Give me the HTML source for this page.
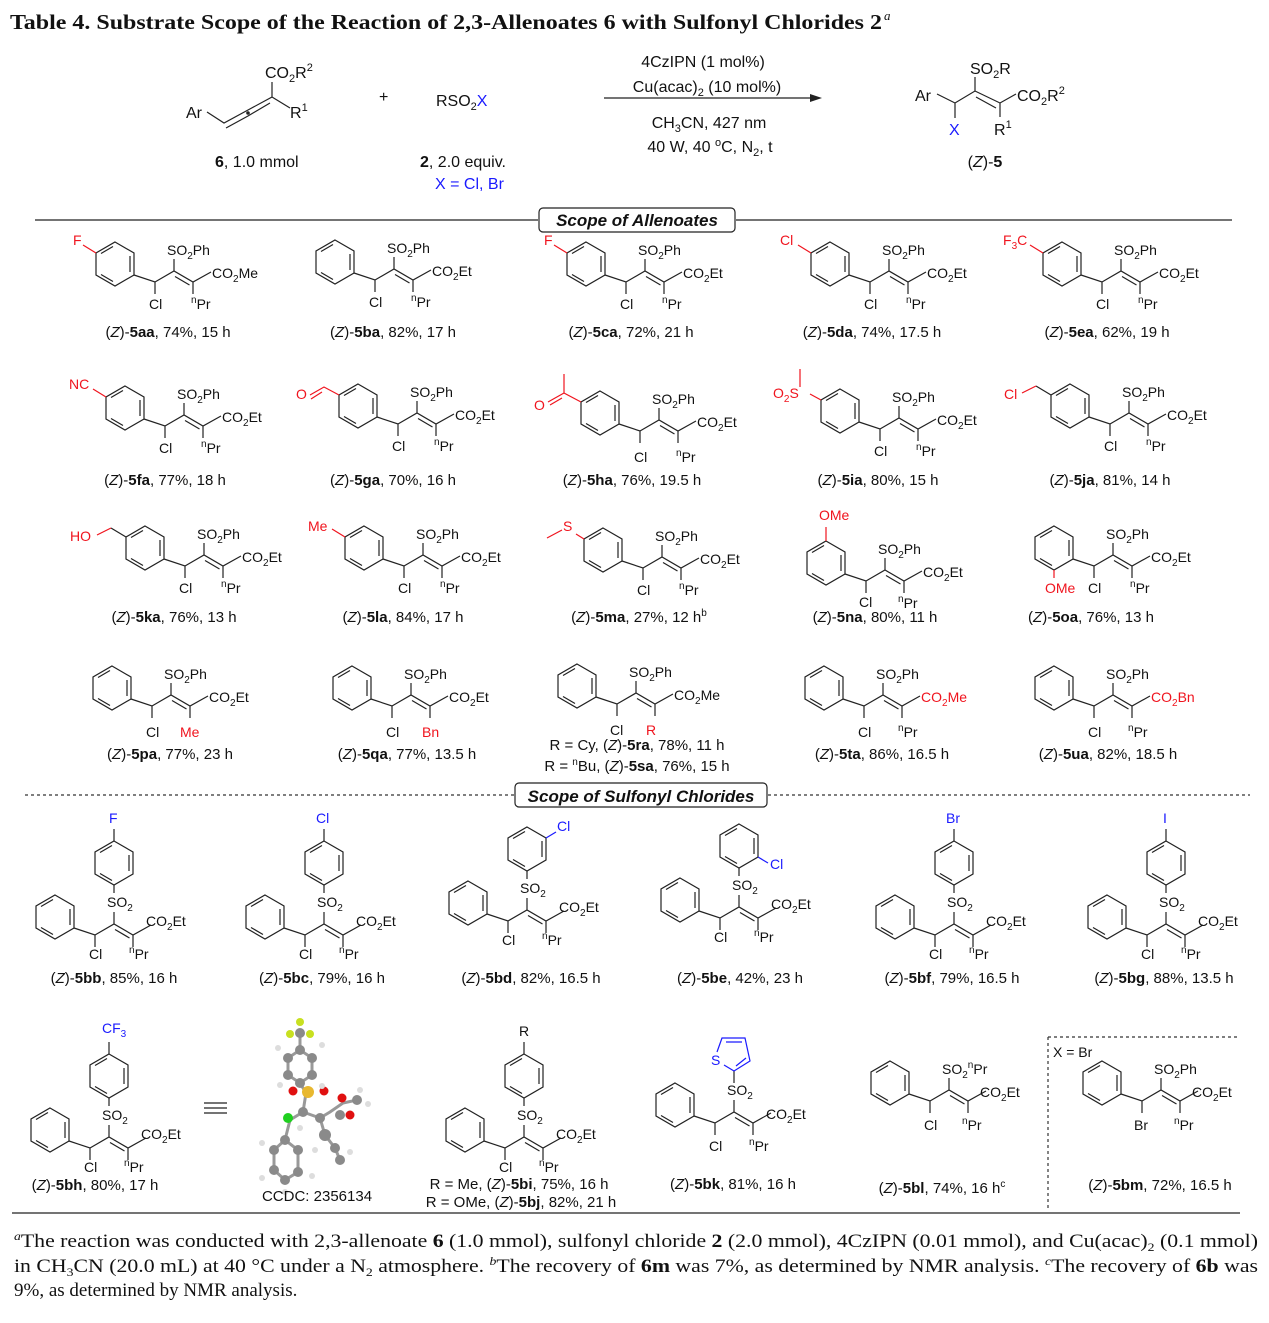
<!DOCTYPE html>
<html><head><meta charset="utf-8"><style>
html,body{margin:0;padding:0;background:#fff}
svg{display:block}
.t{font-family:"Liberation Sans",sans-serif;font-size:14px;fill:#111}
.c{font-family:"Liberation Sans",sans-serif;font-size:15px;fill:#111;text-anchor:middle}
.r{fill:#f0141e}.b{fill:#1a1aff}
.sv{font-family:"Liberation Serif",serif;fill:#111}
.ln{stroke:#222;stroke-width:1.2;fill:none}
.rl{stroke:#f0141e;stroke-width:1.2;fill:none}
.bl{stroke:#1a1aff;stroke-width:1.2;fill:none}
</style></head><body>
<svg width="1269" height="1323" viewBox="0 0 1269 1323" xmlns="http://www.w3.org/2000/svg">
<defs>
<g id="hx" class="ln"><polygon points="0,-22 19,-11 19,11 0,22 -19,11 -19,-11"/><path d="M15,-8 L15,8 M-2,17.5 L-14,10.5 M-14,-10.5 L-2,-17.5"/></g>
<g id="ch"><use href="#hx"/><path class="ln" d="M19,11 L40,18 L59,7 L78,18 L96,8 M40,18 L40,30 M59,7 L59,-5 M78,18 L78,30 M60,12.5 L74.5,21"/></g>
<g id="ch0"><use href="#hx"/><path class="ln" d="M19,11 L40,18 L59,7 L78,18 L96,8 M40,18 L40,30 M78,18 L78,30 M60,12.5 L74.5,21 M59,7 L59,-5"/></g>
<g id="ch2"><use href="#ch0"/><use href="#hx" x="59" y="-54"/><path class="ln" d="M59,-32 L59,-24"/></g>
<g id="top"><path class="ln" d="M59,-76 L59,-88"/></g>
<g id="pu"><path class="rl" d="M-19,-11 L-32,-19"/></g>
</defs>

<!-- Title -->
<text x="10" y="29" class="sv" font-size="21" font-weight="bold" textLength="872" lengthAdjust="spacingAndGlyphs">Table 4. Substrate Scope of the Reaction of 2,3-Allenoates 6 with Sulfonyl Chlorides 2</text>
<text x="884" y="20" class="sv" font-size="13" font-style="italic">a</text>

<!-- Scheme -->
<path class="ln" d="M207,112 L224,123 L248,110 L272,97 L272,82 M272,97 L290,108 M226,128 L248,116 L270,103"/>
<circle cx="248" cy="113" r="1.8" fill="#222"/>
<text x="186" y="118" class="t" style="font-size:16px">Ar</text>
<text x="265" y="78" class="t" style="font-size:16px">CO<tspan font-size="11" dy="4">2</tspan><tspan dy="-4">R</tspan><tspan font-size="11" dy="-7">2</tspan></text>
<text x="290" y="118" class="t" style="font-size:16px">R<tspan font-size="11" dy="-7">1</tspan></text>
<text x="215" y="167" class="t" style="font-size:16px"><tspan font-weight="bold">6</tspan>, 1.0 mmol</text>
<text x="379" y="102" class="t" style="font-size:16px">+</text>
<text x="436" y="106" class="t" style="font-size:16px">RSO<tspan font-size="11" dy="4">2</tspan><tspan dy="-4" class="b">X</tspan></text>
<text x="420" y="167" class="t" style="font-size:16px"><tspan font-weight="bold">2</tspan>,  2.0 equiv.</text>
<text x="435" y="189" class="t b" style="font-size:16px">X = Cl, Br</text>
<path class="ln" d="M604,98 L812,98"/><polygon points="822,98 810,94 810,102" fill="#222"/>
<text x="703" y="67" class="c" style="font-size:16px">4CzIPN (1 mol%)</text>
<text x="707" y="92" class="c" style="font-size:16px">Cu(acac)<tspan font-size="11" dy="4">2</tspan><tspan dy="-4"> (10 mol%)</tspan></text>
<text x="709" y="128" class="c" style="font-size:16px">CH<tspan font-size="11" dy="4">3</tspan><tspan dy="-4">CN, 427 nm</tspan></text>
<text x="710" y="152" class="c" style="font-size:16px">40 W, 40 <tspan font-size="11" dy="-6">o</tspan><tspan dy="6">C, N</tspan><tspan font-size="11" dy="4">2</tspan><tspan dy="-4">, t</tspan></text>
<path class="ln" d="M937,94 L955,103 L975,91 L1000,103 L1016,94 M955,103 L955,118 M975,91 L975,77 M1000,103 L1000,117 M976,97 L996,108"/>
<text x="915" y="101" class="t" style="font-size:16px">Ar</text>
<text x="970" y="74" class="t" style="font-size:16px">SO<tspan font-size="11" dy="4">2</tspan><tspan dy="-4">R</tspan></text>
<text x="1017" y="101" class="t" style="font-size:16px">CO<tspan font-size="11" dy="4">2</tspan><tspan dy="-4">R</tspan><tspan font-size="11" dy="-7">2</tspan></text>
<text x="949" y="135" class="t b" style="font-size:16px">X</text>
<text x="994" y="135" class="t" style="font-size:16px">R<tspan font-size="11" dy="-7">1</tspan></text>
<text x="985" y="167" class="c" style="font-size:16px">(<tspan font-style="italic">Z</tspan>)-<tspan font-weight="bold">5</tspan></text>

<!-- Section 1 header -->
<path class="ln" d="M35,220 L538,220 M736,220 L1232,220"/>
<rect x="539" y="208" width="196" height="24" rx="4" fill="#fff" stroke="#222" stroke-width="1.2"/>
<text x="637" y="226" class="c" style="font-size:17px" font-weight="bold" font-style="italic">Scope of Allenoates</text>

<!-- Row 1 -->
<g transform="translate(115,264)"><use href="#ch"/><use href="#pu"/>
<text x="-42" y="-19" class="t r">F</text>
<text x="52" y="-9" class="t">SO<tspan font-size="10" dy="4">2</tspan><tspan dy="-4">Ph</tspan></text>
<text x="97" y="14" class="t">CO<tspan font-size="10" dy="4">2</tspan><tspan dy="-4">Me</tspan></text>
<text x="34" y="45" class="t">Cl</text><text x="76" y="45" class="t"><tspan font-size="10" dy="-6">n</tspan><tspan dy="6">Pr</tspan></text>
<text x="53" y="73" class="c">(<tspan font-style="italic">Z</tspan>)-<tspan font-weight="bold">5aa</tspan>, 74%, 15 h</text></g>

<g transform="translate(335,262)"><use href="#ch"/>
<text x="52" y="-9" class="t">SO<tspan font-size="10" dy="4">2</tspan><tspan dy="-4">Ph</tspan></text>
<text x="97" y="14" class="t">CO<tspan font-size="10" dy="4">2</tspan><tspan dy="-4">Et</tspan></text>
<text x="34" y="45" class="t">Cl</text><text x="76" y="45" class="t"><tspan font-size="10" dy="-6">n</tspan><tspan dy="6">Pr</tspan></text>
<text x="58" y="75" class="c">(<tspan font-style="italic">Z</tspan>)-<tspan font-weight="bold">5ba</tspan>, 82%, 17 h</text></g>

<g transform="translate(586,264)"><use href="#ch"/><use href="#pu"/>
<text x="-42" y="-19" class="t r">F</text>
<text x="52" y="-9" class="t">SO<tspan font-size="10" dy="4">2</tspan><tspan dy="-4">Ph</tspan></text>
<text x="97" y="14" class="t">CO<tspan font-size="10" dy="4">2</tspan><tspan dy="-4">Et</tspan></text>
<text x="34" y="45" class="t">Cl</text><text x="76" y="45" class="t"><tspan font-size="10" dy="-6">n</tspan><tspan dy="6">Pr</tspan></text>
<text x="45" y="73" class="c">(<tspan font-style="italic">Z</tspan>)-<tspan font-weight="bold">5ca</tspan>, 72%, 21 h</text></g>

<g transform="translate(830,264)"><use href="#ch"/><use href="#pu"/>
<text x="-50" y="-19" class="t r">Cl</text>
<text x="52" y="-9" class="t">SO<tspan font-size="10" dy="4">2</tspan><tspan dy="-4">Ph</tspan></text>
<text x="97" y="14" class="t">CO<tspan font-size="10" dy="4">2</tspan><tspan dy="-4">Et</tspan></text>
<text x="34" y="45" class="t">Cl</text><text x="76" y="45" class="t"><tspan font-size="10" dy="-6">n</tspan><tspan dy="6">Pr</tspan></text>
<text x="42" y="73" class="c">(<tspan font-style="italic">Z</tspan>)-<tspan font-weight="bold">5da</tspan>, 74%, 17.5 h</text></g>

<g transform="translate(1062,264)"><use href="#ch"/><use href="#pu"/>
<text x="-59" y="-19" class="t r">F<tspan font-size="10" dy="4">3</tspan><tspan dy="-4">C</tspan></text>
<text x="52" y="-9" class="t">SO<tspan font-size="10" dy="4">2</tspan><tspan dy="-4">Ph</tspan></text>
<text x="97" y="14" class="t">CO<tspan font-size="10" dy="4">2</tspan><tspan dy="-4">Et</tspan></text>
<text x="34" y="45" class="t">Cl</text><text x="76" y="45" class="t"><tspan font-size="10" dy="-6">n</tspan><tspan dy="6">Pr</tspan></text>
<text x="45" y="73" class="c">(<tspan font-style="italic">Z</tspan>)-<tspan font-weight="bold">5ea</tspan>, 62%, 19 h</text></g>

<!-- Row 2 -->
<g transform="translate(125,408)"><use href="#ch"/><use href="#pu"/>
<text x="-56" y="-19" class="t r">NC</text>
<text x="52" y="-9" class="t">SO<tspan font-size="10" dy="4">2</tspan><tspan dy="-4">Ph</tspan></text>
<text x="97" y="14" class="t">CO<tspan font-size="10" dy="4">2</tspan><tspan dy="-4">Et</tspan></text>
<text x="34" y="45" class="t">Cl</text><text x="76" y="45" class="t"><tspan font-size="10" dy="-6">n</tspan><tspan dy="6">Pr</tspan></text>
<text x="40" y="77" class="c">(<tspan font-style="italic">Z</tspan>)-<tspan font-weight="bold">5fa</tspan>, 77%, 18 h</text></g>

<g transform="translate(358,406)"><use href="#ch"/><path class="rl" d="M-19,-11 L-34,-19 L-48,-11 M-36,-14 L-47,-7"/>
<text x="-62" y="-7" class="t r">O</text>
<text x="52" y="-9" class="t">SO<tspan font-size="10" dy="4">2</tspan><tspan dy="-4">Ph</tspan></text>
<text x="97" y="14" class="t">CO<tspan font-size="10" dy="4">2</tspan><tspan dy="-4">Et</tspan></text>
<text x="34" y="45" class="t">Cl</text><text x="76" y="45" class="t"><tspan font-size="10" dy="-6">n</tspan><tspan dy="6">Pr</tspan></text>
<text x="35" y="79" class="c">(<tspan font-style="italic">Z</tspan>)-<tspan font-weight="bold">5ga</tspan>, 70%, 16 h</text></g>

<g transform="translate(600,413)"><use href="#ch"/><path class="rl" d="M-19,-11 L-36,-20 L-36,-39 M-36,-20 L-52,-11 M-38,-15 L-50,-8"/>
<text x="-66" y="-3" class="t r">O</text>
<text x="52" y="-9" class="t">SO<tspan font-size="10" dy="4">2</tspan><tspan dy="-4">Ph</tspan></text>
<text x="97" y="14" class="t">CO<tspan font-size="10" dy="4">2</tspan><tspan dy="-4">Et</tspan></text>
<text x="34" y="49" class="t">Cl</text><text x="76" y="49" class="t"><tspan font-size="10" dy="-6">n</tspan><tspan dy="6">Pr</tspan></text>
<text x="32" y="72" class="c">(<tspan font-style="italic">Z</tspan>)-<tspan font-weight="bold">5ha</tspan>, 76%, 19.5 h</text></g>

<g transform="translate(840,411)"><use href="#ch"/><path class="rl" d="M-19,-11 L-30,-17 M-40,-24 L-40,-42"/>
<text x="-67" y="-13" class="t r">O<tspan font-size="10" dy="4">2</tspan><tspan dy="-4">S</tspan></text>
<text x="52" y="-9" class="t">SO<tspan font-size="10" dy="4">2</tspan><tspan dy="-4">Ph</tspan></text>
<text x="97" y="14" class="t">CO<tspan font-size="10" dy="4">2</tspan><tspan dy="-4">Et</tspan></text>
<text x="34" y="45" class="t">Cl</text><text x="76" y="45" class="t"><tspan font-size="10" dy="-6">n</tspan><tspan dy="6">Pr</tspan></text>
<text x="38" y="74" class="c">(<tspan font-style="italic">Z</tspan>)-<tspan font-weight="bold">5ia</tspan>, 80%, 15 h</text></g>

<g transform="translate(1070,406)"><use href="#ch"/><path class="ln" d="M-19,-11 L-34,-20"/><path class="rl" d="M-34,-20 L-48,-13"/>
<text x="-66" y="-7" class="t r">Cl</text>
<text x="52" y="-9" class="t">SO<tspan font-size="10" dy="4">2</tspan><tspan dy="-4">Ph</tspan></text>
<text x="97" y="14" class="t">CO<tspan font-size="10" dy="4">2</tspan><tspan dy="-4">Et</tspan></text>
<text x="34" y="45" class="t">Cl</text><text x="76" y="45" class="t"><tspan font-size="10" dy="-6">n</tspan><tspan dy="6">Pr</tspan></text>
<text x="40" y="79" class="c">(<tspan font-style="italic">Z</tspan>)-<tspan font-weight="bold">5ja</tspan>, 81%, 14 h</text></g>

<!-- Row 3 -->
<g transform="translate(145,548)"><use href="#ch"/><path class="ln" d="M-19,-11 L-34,-20"/><path class="rl" d="M-34,-20 L-48,-13"/>
<text x="-75" y="-7" class="t r">HO</text>
<text x="52" y="-9" class="t">SO<tspan font-size="10" dy="4">2</tspan><tspan dy="-4">Ph</tspan></text>
<text x="97" y="14" class="t">CO<tspan font-size="10" dy="4">2</tspan><tspan dy="-4">Et</tspan></text>
<text x="34" y="45" class="t">Cl</text><text x="76" y="45" class="t"><tspan font-size="10" dy="-6">n</tspan><tspan dy="6">Pr</tspan></text>
<text x="29" y="74" class="c">(<tspan font-style="italic">Z</tspan>)-<tspan font-weight="bold">5ka</tspan>, 76%, 13 h</text></g>

<g transform="translate(364,548)"><use href="#ch"/><use href="#pu"/>
<text x="-56" y="-17" class="t r">Me</text>
<text x="52" y="-9" class="t">SO<tspan font-size="10" dy="4">2</tspan><tspan dy="-4">Ph</tspan></text>
<text x="97" y="14" class="t">CO<tspan font-size="10" dy="4">2</tspan><tspan dy="-4">Et</tspan></text>
<text x="34" y="45" class="t">Cl</text><text x="76" y="45" class="t"><tspan font-size="10" dy="-6">n</tspan><tspan dy="6">Pr</tspan></text>
<text x="39" y="74" class="c">(<tspan font-style="italic">Z</tspan>)-<tspan font-weight="bold">5la</tspan>, 84%, 17 h</text></g>

<g transform="translate(603,550)"><use href="#ch"/><path class="rl" d="M-19,-11 L-27,-16 M-41,-20 L-56,-12"/>
<text x="-40" y="-19" class="t r">S</text>
<text x="52" y="-9" class="t">SO<tspan font-size="10" dy="4">2</tspan><tspan dy="-4">Ph</tspan></text>
<text x="97" y="14" class="t">CO<tspan font-size="10" dy="4">2</tspan><tspan dy="-4">Et</tspan></text>
<text x="34" y="45" class="t">Cl</text><text x="76" y="45" class="t"><tspan font-size="10" dy="-6">n</tspan><tspan dy="6">Pr</tspan></text>
<text x="36" y="72" class="c">(<tspan font-style="italic">Z</tspan>)-<tspan font-weight="bold">5ma</tspan>, 27%, 12 h<tspan font-size="10" dy="-6">b</tspan></text></g>

<g transform="translate(826,563)"><use href="#ch"/><path class="rl" d="M0,-22 L0,-36"/>
<text x="-7" y="-43" class="t r">OMe</text>
<text x="52" y="-9" class="t">SO<tspan font-size="10" dy="4">2</tspan><tspan dy="-4">Ph</tspan></text>
<text x="97" y="14" class="t">CO<tspan font-size="10" dy="4">2</tspan><tspan dy="-4">Et</tspan></text>
<text x="33" y="44" class="t">Cl</text><text x="72" y="45" class="t"><tspan font-size="10" dy="-6">n</tspan><tspan dy="6">Pr</tspan></text>
<text x="49" y="59" class="c">(<tspan font-style="italic">Z</tspan>)-<tspan font-weight="bold">5na</tspan>, 80%, 11 h</text></g>

<g transform="translate(1054,548)"><use href="#ch"/><path class="rl" d="M0,22 L0,30"/>
<text x="-9" y="45" class="t r">OMe</text>
<text x="52" y="-9" class="t">SO<tspan font-size="10" dy="4">2</tspan><tspan dy="-4">Ph</tspan></text>
<text x="97" y="14" class="t">CO<tspan font-size="10" dy="4">2</tspan><tspan dy="-4">Et</tspan></text>
<text x="34" y="45" class="t">Cl</text><text x="76" y="45" class="t"><tspan font-size="10" dy="-6">n</tspan><tspan dy="6">Pr</tspan></text>
<text x="37" y="74" class="c">(<tspan font-style="italic">Z</tspan>)-<tspan font-weight="bold">5oa</tspan>, 76%, 13 h</text></g>

<!-- Row 4 -->
<g transform="translate(112,688)"><use href="#ch"/>
<text x="52" y="-9" class="t">SO<tspan font-size="10" dy="4">2</tspan><tspan dy="-4">Ph</tspan></text>
<text x="97" y="14" class="t">CO<tspan font-size="10" dy="4">2</tspan><tspan dy="-4">Et</tspan></text>
<text x="34" y="49" class="t">Cl</text><text x="68" y="49" class="t r">Me</text>
<text x="58" y="71" class="c">(<tspan font-style="italic">Z</tspan>)-<tspan font-weight="bold">5pa</tspan>, 77%, 23 h</text></g>

<g transform="translate(352,688)"><use href="#ch"/>
<text x="52" y="-9" class="t">SO<tspan font-size="10" dy="4">2</tspan><tspan dy="-4">Ph</tspan></text>
<text x="97" y="14" class="t">CO<tspan font-size="10" dy="4">2</tspan><tspan dy="-4">Et</tspan></text>
<text x="34" y="49" class="t">Cl</text><text x="70" y="49" class="t r">Bn</text>
<text x="55" y="71" class="c">(<tspan font-style="italic">Z</tspan>)-<tspan font-weight="bold">5qa</tspan>, 77%, 13.5 h</text></g>

<g transform="translate(577,686)"><use href="#ch"/>
<text x="52" y="-9" class="t">SO<tspan font-size="10" dy="4">2</tspan><tspan dy="-4">Ph</tspan></text>
<text x="97" y="14" class="t">CO<tspan font-size="10" dy="4">2</tspan><tspan dy="-4">Me</tspan></text>
<text x="33" y="49" class="t">Cl</text><text x="69" y="49" class="t r">R</text>
<text x="60" y="64" class="c">R = Cy, (<tspan font-style="italic">Z</tspan>)-<tspan font-weight="bold">5ra</tspan>, 78%, 11 h</text>
<text x="60" y="85" class="c">R = <tspan font-size="10" dy="-6">n</tspan><tspan dy="6">Bu, (</tspan><tspan font-style="italic">Z</tspan>)-<tspan font-weight="bold">5sa</tspan>, 76%, 15 h</text></g>

<g transform="translate(824,688)"><use href="#ch"/>
<text x="52" y="-9" class="t">SO<tspan font-size="10" dy="4">2</tspan><tspan dy="-4">Ph</tspan></text>
<text x="97" y="14" class="t r">CO<tspan font-size="10" dy="4">2</tspan><tspan dy="-4">Me</tspan></text>
<text x="34" y="49" class="t">Cl</text><text x="74" y="49" class="t"><tspan font-size="10" dy="-6">n</tspan><tspan dy="6">Pr</tspan></text>
<text x="58" y="71" class="c">(<tspan font-style="italic">Z</tspan>)-<tspan font-weight="bold">5ta</tspan>, 86%, 16.5 h</text></g>

<g transform="translate(1054,688)"><use href="#ch"/>
<text x="52" y="-9" class="t">SO<tspan font-size="10" dy="4">2</tspan><tspan dy="-4">Ph</tspan></text>
<text x="97" y="14" class="t r">CO<tspan font-size="10" dy="4">2</tspan><tspan dy="-4">Bn</tspan></text>
<text x="34" y="49" class="t">Cl</text><text x="74" y="49" class="t"><tspan font-size="10" dy="-6">n</tspan><tspan dy="6">Pr</tspan></text>
<text x="54" y="71" class="c">(<tspan font-style="italic">Z</tspan>)-<tspan font-weight="bold">5ua</tspan>, 82%, 18.5 h</text></g>

<!-- Section 2 header -->
<path d="M25,795 L515,795 M768,795 L1250,795" stroke="#333" stroke-width="1.2" stroke-dasharray="3,3" fill="none"/>
<rect x="515" y="783" width="252" height="24" rx="4" fill="#fff" stroke="#222" stroke-width="1.2"/>
<text x="641" y="802" class="c" style="font-size:17px" font-weight="bold" font-style="italic">Scope of Sulfonyl Chlorides</text>

<!-- Row 5 -->
<g transform="translate(55,917)"><use href="#ch2"/><use href="#top"/>
<text x="54" y="-94" class="t b">F</text>
<text x="52" y="-10" class="t">SO<tspan font-size="10" dy="4">2</tspan></text>
<text x="91" y="9" class="t">CO<tspan font-size="10" dy="4">2</tspan><tspan dy="-4">Et</tspan></text>
<text x="34" y="42" class="t">Cl</text><text x="74" y="42" class="t"><tspan font-size="10" dy="-6">n</tspan><tspan dy="6">Pr</tspan></text>
<text x="59" y="66" class="c">(<tspan font-style="italic">Z</tspan>)-<tspan font-weight="bold">5bb</tspan>,  85%, 16 h</text></g>

<g transform="translate(265,917)"><use href="#ch2"/><use href="#top"/>
<text x="51" y="-94" class="t b">Cl</text>
<text x="52" y="-10" class="t">SO<tspan font-size="10" dy="4">2</tspan></text>
<text x="91" y="9" class="t">CO<tspan font-size="10" dy="4">2</tspan><tspan dy="-4">Et</tspan></text>
<text x="34" y="42" class="t">Cl</text><text x="74" y="42" class="t"><tspan font-size="10" dy="-6">n</tspan><tspan dy="6">Pr</tspan></text>
<text x="57" y="66" class="c">(<tspan font-style="italic">Z</tspan>)-<tspan font-weight="bold">5bc</tspan>,  79%, 16 h</text></g>

<g transform="translate(468,903)"><use href="#ch2"/><path class="bl" d="M78,-65 L88,-71"/>
<text x="89" y="-72" class="t b">Cl</text>
<text x="52" y="-10" class="t">SO<tspan font-size="10" dy="4">2</tspan></text>
<text x="91" y="9" class="t">CO<tspan font-size="10" dy="4">2</tspan><tspan dy="-4">Et</tspan></text>
<text x="34" y="42" class="t">Cl</text><text x="74" y="42" class="t"><tspan font-size="10" dy="-6">n</tspan><tspan dy="6">Pr</tspan></text>
<text x="63" y="80" class="c">(<tspan font-style="italic">Z</tspan>)-<tspan font-weight="bold">5bd</tspan>, 82%, 16.5 h</text></g>

<g transform="translate(680,900)"><use href="#ch2"/><path class="bl" d="M78,-43 L88,-37"/>
<text x="90" y="-31" class="t b">Cl</text>
<text x="52" y="-10" class="t">SO<tspan font-size="10" dy="4">2</tspan></text>
<text x="91" y="9" class="t">CO<tspan font-size="10" dy="4">2</tspan><tspan dy="-4">Et</tspan></text>
<text x="34" y="42" class="t">Cl</text><text x="74" y="42" class="t"><tspan font-size="10" dy="-6">n</tspan><tspan dy="6">Pr</tspan></text>
<text x="60" y="83" class="c">(<tspan font-style="italic">Z</tspan>)-<tspan font-weight="bold">5be</tspan>, 42%, 23 h</text></g>

<g transform="translate(895,917)"><use href="#ch2"/><use href="#top"/>
<text x="51" y="-94" class="t b">Br</text>
<text x="52" y="-10" class="t">SO<tspan font-size="10" dy="4">2</tspan></text>
<text x="91" y="9" class="t">CO<tspan font-size="10" dy="4">2</tspan><tspan dy="-4">Et</tspan></text>
<text x="34" y="42" class="t">Cl</text><text x="74" y="42" class="t"><tspan font-size="10" dy="-6">n</tspan><tspan dy="6">Pr</tspan></text>
<text x="57" y="66" class="c">(<tspan font-style="italic">Z</tspan>)-<tspan font-weight="bold">5bf</tspan>,  79%, 16.5 h</text></g>

<g transform="translate(1107,917)"><use href="#ch2"/><use href="#top"/>
<text x="56" y="-94" class="t b">I</text>
<text x="52" y="-10" class="t">SO<tspan font-size="10" dy="4">2</tspan></text>
<text x="91" y="9" class="t">CO<tspan font-size="10" dy="4">2</tspan><tspan dy="-4">Et</tspan></text>
<text x="34" y="42" class="t">Cl</text><text x="74" y="42" class="t"><tspan font-size="10" dy="-6">n</tspan><tspan dy="6">Pr</tspan></text>
<text x="57" y="66" class="c">(<tspan font-style="italic">Z</tspan>)-<tspan font-weight="bold">5bg</tspan>,  88%, 13.5 h</text></g>

<!-- Row 6 -->
<g transform="translate(50,1130)"><use href="#ch2"/><use href="#top"/>
<text x="52" y="-97" class="t b">CF<tspan font-size="10" dy="4">3</tspan></text>
<text x="52" y="-10" class="t">SO<tspan font-size="10" dy="4">2</tspan></text>
<text x="91" y="9" class="t">CO<tspan font-size="10" dy="4">2</tspan><tspan dy="-4">Et</tspan></text>
<text x="34" y="42" class="t">Cl</text><text x="74" y="42" class="t"><tspan font-size="10" dy="-6">n</tspan><tspan dy="6">Pr</tspan></text>
<text x="45" y="60" class="c">(<tspan font-style="italic">Z</tspan>)-<tspan font-weight="bold">5bh</tspan>, 80%, 17 h</text></g>
<path class="ln" d="M204,1103 L227,1103 M204,1108 L227,1108 M204,1113 L227,1113"/>

<!-- crystal structure -->
<g stroke="#999" stroke-width="3" fill="none">
<path d="M300,1033 L300,1050 L288,1058 L288,1075 L300,1083 L312,1075 L312,1058 L300,1050 M300,1083 L306,1093 L303,1112 L290,1120 L285,1140 L274,1150 L274,1170 L285,1180 L298,1172 L298,1150 L285,1140 M303,1112 L320,1118 L330,1112 L343,1103 L357,1100 M320,1118 L325,1135 L335,1148 L340,1160"/>
</g>
<g fill="#8a8a8a"><circle cx="300" cy="1050" r="5"/><circle cx="288" cy="1058" r="5"/><circle cx="288" cy="1075" r="5"/><circle cx="312" cy="1058" r="5"/><circle cx="312" cy="1075" r="5"/><circle cx="300" cy="1083" r="5"/><circle cx="303" cy="1112" r="5"/><circle cx="320" cy="1118" r="5"/><circle cx="285" cy="1140" r="5"/><circle cx="274" cy="1150" r="5"/><circle cx="274" cy="1170" r="5"/><circle cx="285" cy="1180" r="5"/><circle cx="298" cy="1172" r="5"/><circle cx="298" cy="1150" r="5"/><circle cx="340" cy="1115" r="5"/><circle cx="357" cy="1100" r="5"/><circle cx="325" cy="1135" r="6"/><circle cx="335" cy="1148" r="5"/><circle cx="340" cy="1160" r="5"/><circle cx="300" cy="1033" r="5"/></g>
<g fill="#c8e020"><circle cx="300" cy="1022" r="4"/><circle cx="290" cy="1034" r="4"/><circle cx="310" cy="1034" r="4"/></g>
<circle cx="308" cy="1092" r="6" fill="#e8b830"/>
<g fill="#e01010"><circle cx="293" cy="1091" r="4.5"/><circle cx="324" cy="1091" r="4.5"/><circle cx="342" cy="1098" r="4.5"/><circle cx="350" cy="1115" r="4.5"/></g>
<circle cx="288" cy="1118" r="5" fill="#20d020"/>
<g fill="#ddd"><circle cx="278" cy="1048" r="3"/><circle cx="322" cy="1045" r="3"/><circle cx="280" cy="1085" r="3"/><circle cx="322" cy="1086" r="3"/><circle cx="262" cy="1143" r="3"/><circle cx="262" cy="1178" r="3"/><circle cx="285" cy="1192" r="3"/><circle cx="312" cy="1176" r="3"/><circle cx="360" cy="1090" r="3"/><circle cx="368" cy="1104" r="3"/><circle cx="350" cy="1152" r="3"/><circle cx="315" cy="1150" r="3"/><circle cx="300" cy="1128" r="3"/></g>
<text x="317" y="1201" class="c">CCDC: 2356134</text>

<g transform="translate(465,1130)"><use href="#ch2"/><use href="#top"/>
<text x="54" y="-94" class="t">R</text>
<text x="52" y="-10" class="t">SO<tspan font-size="10" dy="4">2</tspan></text>
<text x="91" y="9" class="t">CO<tspan font-size="10" dy="4">2</tspan><tspan dy="-4">Et</tspan></text>
<text x="34" y="42" class="t">Cl</text><text x="74" y="42" class="t"><tspan font-size="10" dy="-6">n</tspan><tspan dy="6">Pr</tspan></text>
<text x="54" y="59" class="c">R = Me, (<tspan font-style="italic">Z</tspan>)-<tspan font-weight="bold">5bi</tspan>, 75%, 16 h</text>
<text x="56" y="77" class="c">R = OMe, (<tspan font-style="italic">Z</tspan>)-<tspan font-weight="bold">5bj</tspan>, 82%, 21 h</text></g>

<g transform="translate(675,1105)"><use href="#ch0"/><path class="ln" d="M59,-22 L59,-34"/>
<path class="bl" d="M59,-34 L49,-40 M42,-53 L47,-67 L70,-67 L75,-44 L59,-34 M51,-63 L67,-63 M71,-47 L61,-39"/>
<text x="36" y="-40" class="t b">S</text>
<text x="52" y="-10" class="t">SO<tspan font-size="10" dy="4">2</tspan></text>
<text x="91" y="14" class="t">CO<tspan font-size="10" dy="4">2</tspan><tspan dy="-4">Et</tspan></text>
<text x="34" y="46" class="t">Cl</text><text x="74" y="46" class="t"><tspan font-size="10" dy="-6">n</tspan><tspan dy="6">Pr</tspan></text>
<text x="58" y="84" class="c">(<tspan font-style="italic">Z</tspan>)-<tspan font-weight="bold">5bk</tspan>, 81%, 16 h</text></g>

<g transform="translate(890,1083)"><use href="#ch"/>
<text x="52" y="-9" class="t">SO<tspan font-size="10" dy="4">2</tspan><tspan font-size="10" dy="-10">n</tspan><tspan dy="6">Pr</tspan></text>
<text x="90" y="14" class="t">CO<tspan font-size="10" dy="4">2</tspan><tspan dy="-4">Et</tspan></text>
<text x="34" y="47" class="t">Cl</text><text x="72" y="47" class="t"><tspan font-size="10" dy="-6">n</tspan><tspan dy="6">Pr</tspan></text>
<text x="52" y="110" class="c">(<tspan font-style="italic">Z</tspan>)-<tspan font-weight="bold">5bl</tspan>, 74%, 16 h<tspan font-size="10" dy="-6">c</tspan></text></g>

<path d="M1048,1037 L1048,1210 M1048,1037 L1240,1037" stroke="#333" stroke-width="1.2" stroke-dasharray="3,3" fill="none"/>
<text x="1053" y="1057" class="t">X = Br</text>
<g transform="translate(1102,1083)"><use href="#ch"/>
<text x="52" y="-9" class="t">SO<tspan font-size="10" dy="4">2</tspan><tspan dy="-4">Ph</tspan></text>
<text x="90" y="14" class="t">CO<tspan font-size="10" dy="4">2</tspan><tspan dy="-4">Et</tspan></text>
<text x="32" y="47" class="t">Br</text><text x="72" y="47" class="t"><tspan font-size="10" dy="-6">n</tspan><tspan dy="6">Pr</tspan></text>
<text x="58" y="107" class="c">(<tspan font-style="italic">Z</tspan>)-<tspan font-weight="bold">5bm</tspan>,  72%, 16.5 h</text></g>

<!-- bottom rule and footnotes -->
<path class="ln" d="M12,1213 L1240,1213"/>
<text x="14" y="1247" class="sv" font-size="19" textLength="1244" lengthAdjust="spacingAndGlyphs"><tspan font-size="12" dy="-7" font-style="italic">a</tspan><tspan dy="7">The reaction was conducted with 2,3-allenoate </tspan><tspan font-weight="bold">6</tspan> (1.0 mmol), sulfonyl chloride <tspan font-weight="bold">2</tspan> (2.0 mmol), 4CzIPN (0.01 mmol), and Cu(acac)<tspan font-size="12" dy="4">2</tspan><tspan dy="-4"> (0.1 mmol)</tspan></text>
<text x="14" y="1272" class="sv" font-size="19" textLength="1244" lengthAdjust="spacingAndGlyphs">in CH<tspan font-size="12" dy="4">3</tspan><tspan dy="-4">CN (20.0 mL) at 40 °C under a N</tspan><tspan font-size="12" dy="4">2</tspan><tspan dy="-4"> atmosphere. </tspan><tspan font-size="12" dy="-7" font-style="italic">b</tspan><tspan dy="7">The recovery of </tspan><tspan font-weight="bold">6m</tspan> was 7%, as determined by NMR analysis. <tspan font-size="12" dy="-7" font-style="italic">c</tspan><tspan dy="7">The recovery of </tspan><tspan font-weight="bold">6b</tspan> was</text>
<text x="14" y="1296" class="sv" font-size="19">9%, as determined by NMR analysis.</text>
</svg>
</body></html>
